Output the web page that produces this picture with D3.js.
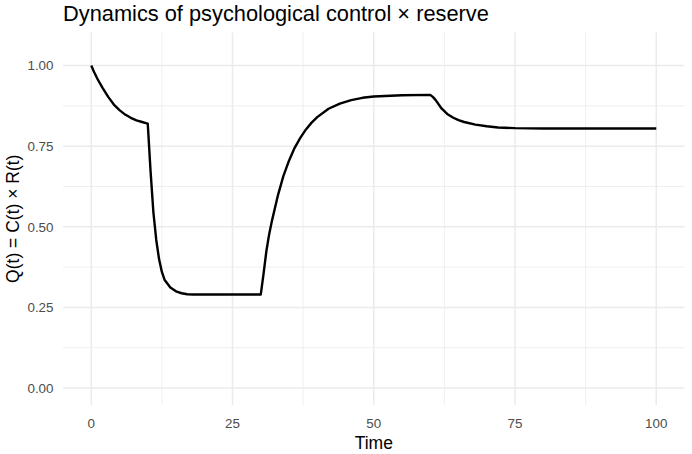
<!DOCTYPE html>
<html>
<head>
<meta charset="utf-8">
<script src="https://cdn.jsdelivr.net/npm/d3@7"></script>
<style>
  body { margin: 0; background: #fff; }
  svg { display: block; font-family: "Liberation Sans", Arial, sans-serif; }
</style>
</head>
<body>
<svg id="chart" width="692" height="454"></svg>
<script>
const chartTitle = 'Dynamics of psychological control \u00d7 reserve';
const xLabel = 'Time';
const yLabel = 'Q(t) = C(t) \u00d7 R(t)';

// values
const timeValues = [
    0, 0.5, 1, 1.5, 2, 3, 4, 5, 6, 7, 8, 9, 10,
    10.5, 11, 11.5, 12, 12.5, 13, 14, 15, 16, 17, 18, 20, 25, 30,
    30.5, 31, 31.5, 32, 33, 34, 35, 36, 37, 38, 39, 40, 42, 44, 46, 48, 50, 55, 60,
    60.5, 61, 62, 63, 64, 65, 66, 68, 70, 72, 75, 80, 90, 100
];
const qValues = [
    1.00, 0.980, 0.962, 0.946, 0.931, 0.903, 0.879, 0.862, 0.848, 0.838, 0.830, 0.825, 0.820,
    0.672, 0.545, 0.460, 0.400, 0.360, 0.335, 0.312, 0.300, 0.294, 0.291, 0.290, 0.290, 0.290, 0.290,
    0.355, 0.425, 0.478, 0.520, 0.595, 0.657, 0.705, 0.745, 0.776, 0.802, 0.823, 0.840, 0.866, 0.882, 0.893, 0.900, 0.904, 0.908, 0.909,
    0.902, 0.892, 0.867, 0.850, 0.839, 0.831, 0.825, 0.817, 0.812, 0.808, 0.806, 0.805, 0.805, 0.805
];

const xTicks = [0, 25, 50, 75, 100];
const xMinor = [12.5, 37.5, 62.5, 87.5];
const yTicks = [0, 0.25, 0.5, 0.75, 1.0];
const yMinor = [0.125, 0.375, 0.625, 0.875];

const svg = d3.select('#chart');
const panel = { left: 63, right: 684.5, top: 32.5, bottom: 405 };

const xScale = d3.scaleLinear().domain([-5, 105]).range([panel.left, panel.right]);
const yScale = d3.scaleLinear().domain([-0.0525, 1.1025]).range([panel.bottom, panel.top]);

const grid = svg.append('g');
// minor grid
grid.selectAll('.xminor').data(xMinor).enter().append('line')
    .attr('x1', d => xScale(d)).attr('x2', d => xScale(d))
    .attr('y1', panel.top).attr('y2', panel.bottom)
    .attr('stroke', '#ebebeb').attr('stroke-width', 0.8);
grid.selectAll('.yminor').data(yMinor).enter().append('line')
    .attr('y1', d => yScale(d)).attr('y2', d => yScale(d))
    .attr('x1', panel.left).attr('x2', panel.right)
    .attr('stroke', '#ebebeb').attr('stroke-width', 0.8);
// major grid
grid.selectAll('.xmajor').data(xTicks).enter().append('line')
    .attr('x1', d => xScale(d)).attr('x2', d => xScale(d))
    .attr('y1', panel.top).attr('y2', panel.bottom)
    .attr('stroke', '#ebebeb').attr('stroke-width', 1.5);
grid.selectAll('.ymajor').data(yTicks).enter().append('line')
    .attr('y1', d => yScale(d)).attr('y2', d => yScale(d))
    .attr('x1', panel.left).attr('x2', panel.right)
    .attr('stroke', '#ebebeb').attr('stroke-width', 1.5);

// tick labels
svg.append('g').selectAll('text').data(xTicks).enter().append('text')
    .attr('x', d => xScale(d)).attr('y', 427.5)
    .attr('text-anchor', 'middle')
    .attr('font-size', 13.4).attr('fill', '#4d4d4d')
    .text(d => d);
svg.append('g').selectAll('text').data(yTicks).enter().append('text')
    .attr('x', 53.5).attr('y', d => yScale(d)).attr('dy', '0.36em')
    .attr('text-anchor', 'end')
    .attr('font-size', 13.4).attr('fill', '#4d4d4d')
    .text(d => d3.format('.2f')(d));

// the line
const qLine = d3.line()
    .x((d, i) => xScale(timeValues[i]))
    .y(d => yScale(d));
svg.append('path')
    .datum(qValues)
    .attr('fill', 'none')
    .attr('stroke', '#000')
    .attr('stroke-width', 2.4)
    .attr('stroke-linejoin', 'round')
    .attr('d', qLine);

// titles
svg.append('text')
    .attr('x', (panel.left + panel.right) / 2).attr('y', 448.5)
    .attr('text-anchor', 'middle')
    .attr('font-size', 17.5).attr('fill', '#000')
    .text(xLabel);
svg.append('text')
    .attr('transform', 'translate(19,' + ((panel.top + panel.bottom) / 2) + ') rotate(-90)')
    .attr('text-anchor', 'middle')
    .attr('font-size', 17.5).attr('fill', '#000')
    .text(yLabel);
svg.append('text')
    .attr('x', panel.left).attr('y', 21)
    .attr('font-size', 21.8).attr('fill', '#000')
    .text(chartTitle);
</script>
</body>
</html>
